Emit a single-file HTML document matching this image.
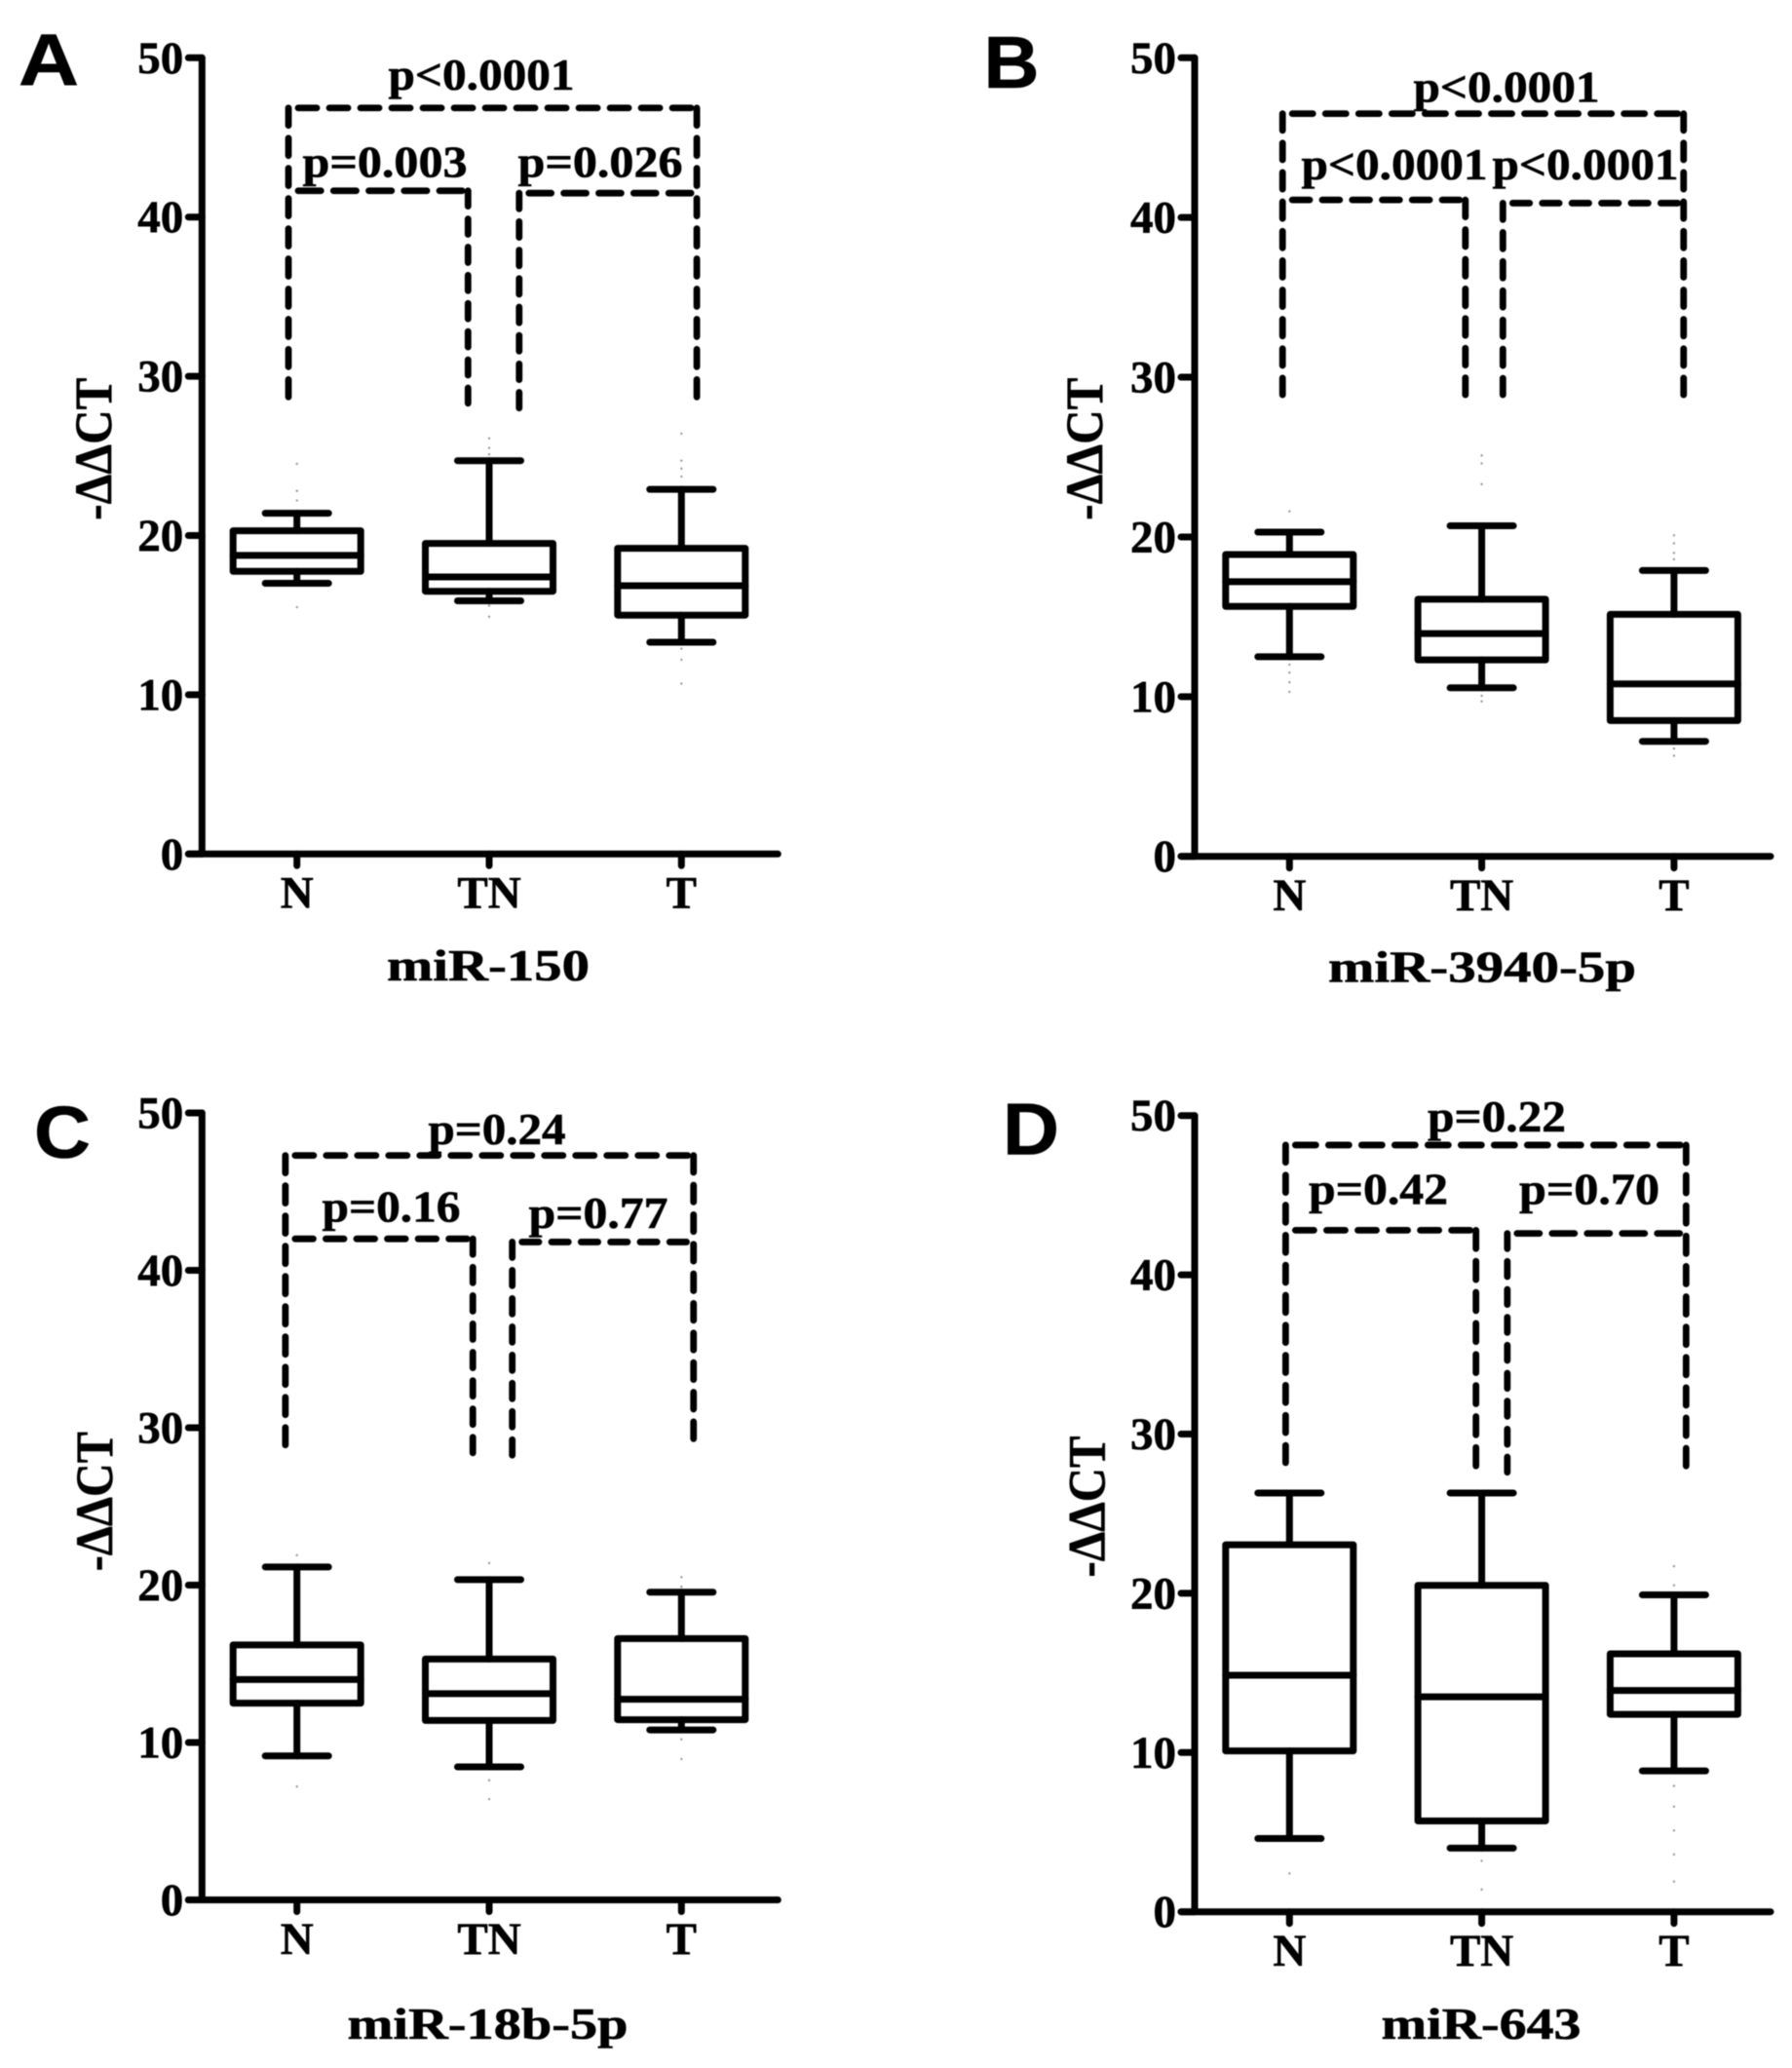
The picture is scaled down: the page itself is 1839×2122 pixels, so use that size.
<!DOCTYPE html>
<html lang="en">
<head>
<meta charset="utf-8">
<title>miRNA expression box plots</title>
<style>
html,body{margin:0;padding:0;background:#fff;}
svg{display:block;filter:blur(0.6px);}
text{fill:#000;stroke:#000;stroke-width:0.6px;font-family:"Liberation Serif",serif;font-weight:bold;}
.letter{font-family:"Liberation Sans",sans-serif;font-size:75px;}
.lab{font-size:46px;text-anchor:middle;}
.ytitle{font-size:54px;text-anchor:middle;}
</style>
</head>
<body>
<svg id="figure" width="1839" height="2122" viewBox="0 0 1839 2122" xmlns="http://www.w3.org/2000/svg">
  <rect width="1839" height="2122" fill="#fff"/>

  <g id="panel-a">
    <text class="letter" x="50" y="87" text-anchor="middle" textLength="62" lengthAdjust="spacingAndGlyphs">A</text>
    <text class="ytitle" transform="translate(114 460.7) rotate(-90)" textLength="146" lengthAdjust="spacingAndGlyphs">-ΔΔCT</text>
    <text class="lab" x="501" y="1006" textLength="208" lengthAdjust="spacingAndGlyphs">miR-150</text>
    <text class="lab" x="494" y="91.9" textLength="191" lengthAdjust="spacingAndGlyphs">p&lt;0.0001</text>
    <text class="lab" x="395" y="181.4" textLength="169" lengthAdjust="spacingAndGlyphs">p=0.003</text>
    <text class="lab" x="616" y="181.4" textLength="169" lengthAdjust="spacingAndGlyphs">p=0.026</text>
  </g>

  <g id="panel-b">
    <text class="letter" x="1038" y="90" text-anchor="middle" textLength="57" lengthAdjust="spacingAndGlyphs">B</text>
    <text class="ytitle" transform="translate(1131 460.7) rotate(-90)" textLength="146" lengthAdjust="spacingAndGlyphs">-ΔΔCT</text>
    <text class="lab" x="1521" y="1007.5" textLength="316" lengthAdjust="spacingAndGlyphs">miR-3940-5p</text>
    <text class="lab" x="1546" y="104.7" textLength="191" lengthAdjust="spacingAndGlyphs">p&lt;0.0001</text>
    <text class="lab" x="1431" y="184" textLength="191" lengthAdjust="spacingAndGlyphs">p&lt;0.0001</text>
    <text class="lab" x="1627" y="184" textLength="191" lengthAdjust="spacingAndGlyphs">p&lt;0.0001</text>
  </g>

  <g id="panel-c">
    <text class="letter" x="64" y="1188" text-anchor="middle" textLength="58" lengthAdjust="spacingAndGlyphs">C</text>
    <text class="ytitle" transform="translate(115 1540.7) rotate(-90)" textLength="143" lengthAdjust="spacingAndGlyphs">-ΔΔCT</text>
    <text class="lab" x="500.5" y="2092" textLength="288" lengthAdjust="spacingAndGlyphs">miR-18b-5p</text>
    <text class="lab" x="510" y="1174" textLength="141" lengthAdjust="spacingAndGlyphs">p=0.24</text>
    <text class="lab" x="401.5" y="1253.5" textLength="142" lengthAdjust="spacingAndGlyphs">p=0.16</text>
    <text class="lab" x="614" y="1260.2" textLength="143" lengthAdjust="spacingAndGlyphs">p=0.77</text>
  </g>

  <g id="panel-d">
    <text class="letter" x="1058" y="1184.7" text-anchor="middle" textLength="58" lengthAdjust="spacingAndGlyphs">D</text>
    <text class="ytitle" transform="translate(1133.5 1546) rotate(-90)" textLength="145" lengthAdjust="spacingAndGlyphs">-ΔΔCT</text>
    <text class="lab" x="1520" y="2092" textLength="205" lengthAdjust="spacingAndGlyphs">miR-643</text>
    <text class="lab" x="1536" y="1161" textLength="142" lengthAdjust="spacingAndGlyphs">p=0.22</text>
    <text class="lab" x="1414.5" y="1235.6" textLength="143" lengthAdjust="spacingAndGlyphs">p=0.42</text>
    <text class="lab" x="1631" y="1235.6" textLength="144" lengthAdjust="spacingAndGlyphs">p=0.70</text>
  </g>
</svg>

<script>
const categories = ['N', 'TN', 'T'];
const yTickValues = [0, 10, 20, 30, 40, 50];
const yTickLabels = ['0', '10', '20', '30', '40', '50'];

const aWhiskerHigh = [21.4, 24.7, 22.9];
const aQ3 = [20.3, 19.5, 19.2];
const aMedian = [18.75, 17.4, 16.85];
const aQ1 = [17.75, 16.5, 15.0];
const aWhiskerLow = [17.0, 15.9, 13.3];
const aOutliers = [[24.5, 22.8, 22.2, 15.5], [26.1, 25.5, 25.1, 15.6, 14.9], [26.4, 24.7, 24.2, 23.7, 12.9, 12.2, 10.7]];

const bWhiskerHigh = [20.3, 20.7, 17.9];
const bQ3 = [18.9, 16.1, 15.15];
const bMedian = [17.2, 13.95, 10.8];
const bQ1 = [15.65, 12.3, 8.5];
const bWhiskerLow = [12.5, 10.55, 7.2];
const bOutliers = [[21.6, 12.0, 11.5, 10.9, 10.3], [25.1, 24.6, 23.3, 10.05, 9.7], [20.1, 19.6, 19.0, 18.6, 6.75, 6.3]];

const cWhiskerHigh = [21.15, 20.35, 19.55];
const cQ3 = [16.2, 15.3, 16.6];
const cMedian = [14.0, 13.1, 12.75];
const cQ1 = [12.5, 11.4, 11.45];
const cWhiskerLow = [9.15, 8.45, 10.8];
const cOutliers = [[21.9, 7.2], [21.4, 7.6, 6.4], [20.5, 19.9, 10.2, 8.95]];

const dWhiskerHigh = [26.3, 26.3, 19.9];
const dQ3 = [23.05, 20.5, 16.2];
const dMedian = [14.85, 13.5, 13.9];
const dQ1 = [10.1, 5.7, 12.4];
const dWhiskerLow = [4.6, 4.0, 8.85];
const dOutliers = [[2.4], [3.2, 1.4], [21.7, 20.5, 7.9, 6.6, 5.1, 3.6, 1.9]];

/* significance brackets: x in category units, y in axis units */
const aBracketStart = [-0.044, -0.044, 1.156];
const aBracketEnd = [2.08, 0.89, 2.08];
const aBracketTop = [46.85, 41.65, 41.5];
const aBracketDropStart = [28.7, 28.7, 28.0];
const aBracketDropEnd = [28.7, 28.3, 28.7];

const bBracketStart = [-0.036, -0.036, 1.11];
const bBracketEnd = [2.05, 0.915, 2.05];
const bBracketTop = [46.5, 41.1, 40.9];
const bBracketDropStart = [28.9, 28.9, 28.9];
const bBracketDropEnd = [28.9, 28.9, 28.9];

const cBracketStart = [-0.06, -0.06, 1.12];
const cBracketEnd = [2.063, 0.915, 2.057];
const cBracketTop = [47.3, 42, 41.8];
const cBracketDropStart = [28.9, 28.9, 28.25];
const cBracketDropEnd = [29.3, 28.4, 29.3];

const dBracketStart = [-0.02, -0.02, 1.133];
const dBracketEnd = [2.063, 0.97, 2.06];
const dBracketTop = [48.15, 42.8, 42.6];
const dBracketDropStart = [28.2, 28.2, 27.6];
const dBracketDropEnd = [28.0, 28.0, 28.0];

const SVGNS = 'http://www.w3.org/2000/svg';
const STROKE = 7;

function node(parent, tag, attrs) {
  const el = document.createElementNS(SVGNS, tag);
  Object.keys(attrs).forEach(function (k) { el.setAttribute(k, attrs[k]); });
  parent.appendChild(el);
  return el;
}

/* dash pattern that starts and ends on a full dash for a run of this length */
function fitDash(len, period) {
  const gap = 13;
  const n = Math.max(1, Math.round((len + gap) / period));
  return ((len + gap) / n - gap) + ' ' + gap;
}

function drawPanel(p) {
  const root = document.getElementById('panel-' + p.id);
  const yScale = function (v) { return p.y0 + (p.y50 - p.y0) * v / 50; };
  const xScale = function (c) { return p.x0 + c * 197.3; };
  const solid = { stroke: '#000', 'stroke-width': STROKE, fill: 'none', 'stroke-linecap': 'round', 'stroke-linejoin': 'round' };

  /* axes */
  const yAxis = node(root, 'line', Object.assign({ x1: p.axisX, x2: p.axisX, y1: yScale(50), y2: yScale(0) }, solid));
  
  
  const xAxis = node(root, 'line', Object.assign({ x1: p.axisX - 14, x2: p.axisX + 591, y1: yScale(0), y2: yScale(0) }, solid));
  
  

  yTickValues.forEach(function (v, i) {
    const tick = node(root, 'line', Object.assign({ x1: p.axisX - 14, x2: p.axisX, y1: yScale(v), y2: yScale(v) }, solid));
    
    
    const label = node(root, 'text', { x: p.axisX - 19, y: yScale(v) + 15.5, 'text-anchor': 'end', 'font-size': 47 });
    label.textContent = yTickLabels[i];
    
    
  });

  categories.forEach(function (cat, i) {
    const cx = xScale(i);
    const tick = node(root, 'line', Object.assign({ x1: cx, x2: cx, y1: yScale(0), y2: yScale(0) + 12 }, solid));
    
    
    const label = node(root, 'text', { x: cx, y: yScale(0) + 55.4, 'text-anchor': 'middle', 'font-size': 47 });
    label.textContent = cat;
    
    

    /* whiskers and caps */
    const whisker = node(root, 'path', Object.assign({
      d: 'M' + cx + ' ' + yScale(p.hi[i]) + 'V' + yScale(p.q3[i]) + 'M' + cx + ' ' + yScale(p.q1[i]) + 'V' + yScale(p.lo[i])
    }, solid));
    
    
    const capHi = node(root, 'line', Object.assign({ x1: cx - 32.5, x2: cx + 32.5, y1: yScale(p.hi[i]), y2: yScale(p.hi[i]) }, solid));
    
    
    const capLo = node(root, 'line', Object.assign({ x1: cx - 32.5, x2: cx + 32.5, y1: yScale(p.lo[i]), y2: yScale(p.lo[i]) }, solid));
    
    

    /* box and median */
    const box = node(root, 'rect', Object.assign({ x: cx - 65.5, width: 131, y: yScale(p.q3[i]), height: yScale(p.q1[i]) - yScale(p.q3[i]) }, solid));
    
    
    const median = node(root, 'line', Object.assign({ x1: cx - 65.5, x2: cx + 65.5, y1: yScale(p.med[i]), y2: yScale(p.med[i]) }, solid));
    
    

    /* faint individual points */
    p.out[i].forEach(function (v) {
      const dot = node(root, 'circle', { cx: cx, cy: yScale(v), r: 1.2, fill: '#999' });
      
      
    });
  });

  /* dashed brackets: each run is fitted so it begins and ends on a full dash */
  p.brStart.forEach(function (s, i) {
    const left = xScale(s), right = xScale(p.brEnd[i]), top = yScale(p.brTop[i]);
    const dashed = { fill: 'none', stroke: '#000', 'stroke-width': 6.8, 'stroke-linecap': 'round' };
    const railStart = left + 10, railEnd = right - 6;
    const rail = node(root, 'path', Object.assign({ d: 'M' + railStart + ' ' + top + 'H' + railEnd, 'stroke-dasharray': fitDash(railEnd - railStart, 33) }, dashed));
    
    
    if (i !== 1) {
      const bottomL = yScale(p.brDropStart[i]);
      const dropL = node(root, 'path', Object.assign({ d: 'M' + left + ' ' + top + 'V' + bottomL, 'stroke-dasharray': fitDash(bottomL - top, 30) }, dashed));
      
      
    }
    if (i !== 2) {
      const bottomR = yScale(p.brDropEnd[i]);
      const dropR = node(root, 'path', Object.assign({ d: 'M' + right + ' ' + top + 'V' + bottomR, 'stroke-dasharray': fitDash(bottomR - top, 30) }, dashed));
      
      
    }
  });
}

drawPanel({ id: 'a', axisX: 207.3, y50: 59.3, y0: 876.3, x0: 304.7, hi: aWhiskerHigh, q3: aQ3, med: aMedian, q1: aQ1, lo: aWhiskerLow, out: aOutliers, brStart: aBracketStart, brEnd: aBracketEnd, brTop: aBracketTop, brDropStart: aBracketDropStart, brDropEnd: aBracketDropEnd });
drawPanel({ id: 'b', axisX: 1226, y50: 59.3, y0: 878.7, x0: 1323.3, hi: bWhiskerHigh, q3: bQ3, med: bMedian, q1: bQ1, lo: bWhiskerLow, out: bOutliers, brStart: bBracketStart, brEnd: bBracketEnd, brTop: bBracketTop, brDropStart: bBracketDropStart, brDropEnd: bBracketDropEnd });
drawPanel({ id: 'c', axisX: 207.3, y50: 1142, y0: 1949.5, x0: 304.7, hi: cWhiskerHigh, q3: cQ3, med: cMedian, q1: cQ1, lo: cWhiskerLow, out: cOutliers, brStart: cBracketStart, brEnd: cBracketEnd, brTop: cBracketTop, brDropStart: cBracketDropStart, brDropEnd: cBracketDropEnd });
drawPanel({ id: 'd', axisX: 1226, y50: 1144.7, y0: 1961.7, x0: 1323.3, hi: dWhiskerHigh, q3: dQ3, med: dMedian, q1: dQ1, lo: dWhiskerLow, out: dOutliers, brStart: dBracketStart, brEnd: dBracketEnd, brTop: dBracketTop, brDropStart: dBracketDropStart, brDropEnd: dBracketDropEnd });
</script>
</body>
</html>
